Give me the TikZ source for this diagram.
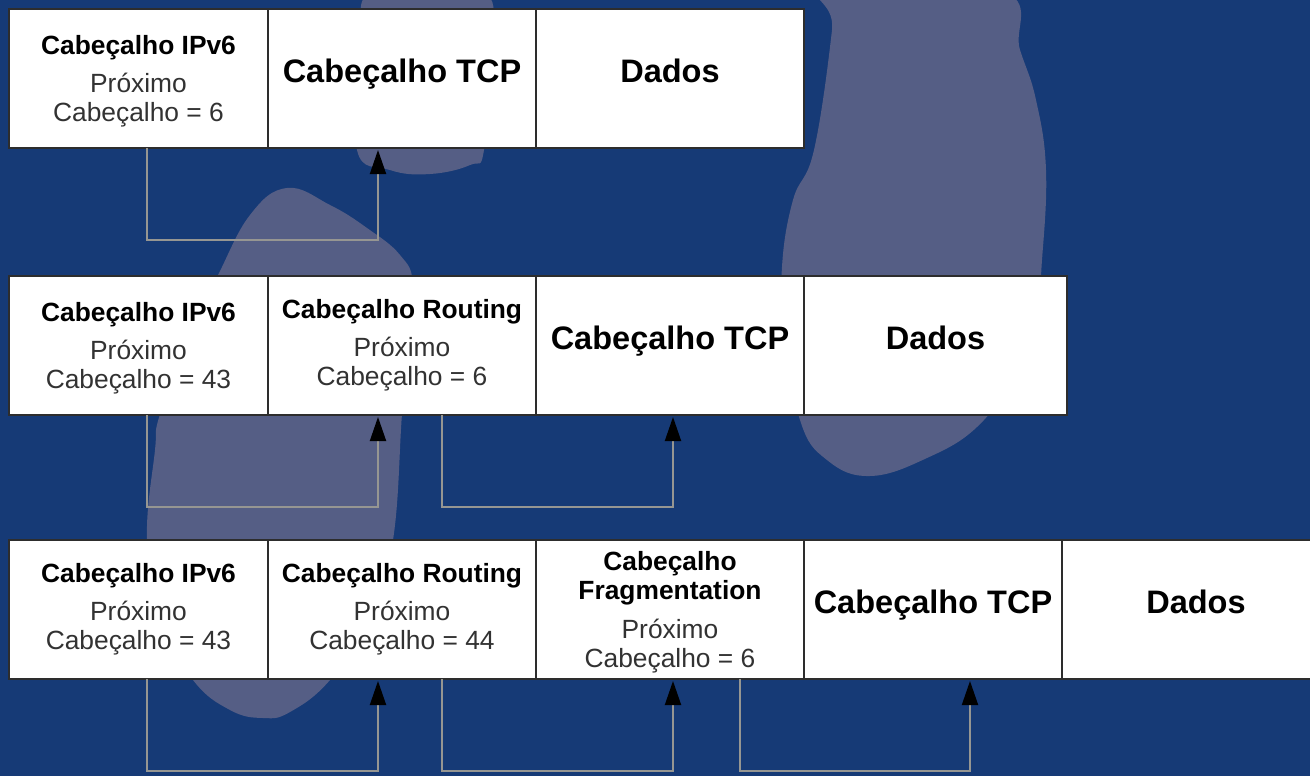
\documentclass[tikz,border=0pt]{standalone}
\usepackage{fontspec}
\setmainfont{Liberation Sans}
\usepackage{xcolor}
\usepackage{tikz}
\usetikzlibrary{arrows.meta,positioning}
\definecolor{bgblue}{RGB}{22,58,118}
\definecolor{blobgray}{RGB}{85,94,133}
\definecolor{linkgray}{RGB}{150,150,146}
\definecolor{cellline}{RGB}{45,45,45}
\definecolor{subtext}{RGB}{50,50,50}

\begin{document}
\begin{tikzpicture}[
cell/.style={draw=cellline, line width=1pt, fill=white, outer sep=0pt, inner sep=2pt,
minimum width=5.36cm, minimum height=2.78cm, align=center, text=subtext,
font=\fontsize{15}{16.5}\selectfont},
lowcell/.style={cell, text depth=-0.14cm},
big/.style={cell, text=black, font=\fontsize{18.5}{20}\selectfont\bfseries, text depth=0.33cm},
link/.style={draw=linkgray, line width=1.1pt, shorten >=0.04cm,
-{Triangle[length=0.48cm,width=0.32cm,color=black]}},
blob/.style={fill=blobgray}
]

\useasboundingbox (0,0) rectangle (26.2,-15.52);
\clip (0,0) rectangle (26.2,-15.52);
\fill[bgblue] (0,0) rectangle (26.2,-15.52);

% background shapes
\fill[blob] plot[smooth cycle, tension=0.7] coordinates {
(7.44,0.2) (7.30,-1.2) (7.14,-3.0) (7.8,-3.4) (8.6,-3.48) (9.4,-3.3)
(9.68,-3.0) (9.76,-1.2) (9.64,0.2)};
\fill[blob] plot[smooth cycle, tension=0.7] coordinates {
(5.74,-3.76) (6.6,-4.1) (7.34,-4.56) (8.0,-5.1) (8.26,-5.7) (8.16,-7.0)
(8.04,-8.28) (7.86,-10.8) (7.4,-12.4) (6.6,-13.6) (5.8,-14.24) (5.26,-14.36)
(4.6,-14.2) (3.86,-13.6) (3.2,-12.4) (2.94,-10.8) (3.1,-9.0) (3.2,-8.28)
(3.8,-6.6) (4.34,-5.54) (5.0,-4.3)};
\fill[blob] plot[smooth cycle, tension=0.7] coordinates {
(16.64,0.2) (16.64,-0.6) (16.28,-3.0) (15.86,-4.0) (15.64,-5.34) (15.7,-6.6)
(16.0,-8.4) (16.54,-9.2) (17.4,-9.52) (18.54,-9.16) (19.54,-8.54) (20.2,-7.6)
(20.7,-6.4) (20.84,-5.2) (20.92,-3.4) (20.72,-2.0) (20.4,-1.0) (20.0,0.2)};

% row 1
\node[cell, text depth=-0.06cm, minimum width=5.18cm] (r1ip) at (2.77,-1.57)
{\textcolor{black}{\bfseries Cabeçalho IPv6}\\[5pt]Próximo\\Cabeçalho = 6};
\node[big, right=0pt of r1ip] (r1tcp) {Cabeçalho TCP};
\node[big, right=0pt of r1tcp] (r1data) {Dados};

% row 2
\node[lowcell, minimum width=5.18cm] (r2ip) at (2.77,-6.91)
{\textcolor{black}{\bfseries Cabeçalho IPv6}\\[5pt]Próximo\\Cabeçalho = 43};
\node[cell, right=0pt of r2ip] (r2rt)
{\textcolor{black}{\bfseries Cabeçalho Routing}\\[5pt]Próximo\\Cabeçalho = 6};
\node[big, right=0pt of r2rt] (r2tcp) {Cabeçalho TCP};
\node[big, right=0pt of r2tcp, minimum width=5.26cm] (r2data) {Dados};

% row 3
\node[cell, minimum width=5.18cm] (r3ip) at (2.77,-12.19)
{\textcolor{black}{\bfseries Cabeçalho IPv6}\\[5pt]Próximo\\Cabeçalho = 43};
\node[cell, right=0pt of r3ip] (r3rt)
{\textcolor{black}{\bfseries Cabeçalho Routing}\\[5pt]Próximo\\Cabeçalho = 44};
\node[lowcell, right=0pt of r3rt] (r3frag)
{\textcolor{black}{\bfseries Cabeçalho}\\\textcolor{black}{\bfseries Fragmentation}\\[6pt]Próximo\\Cabeçalho = 6};
\node[big, right=0pt of r3frag, minimum width=5.16cm] (r3tcp) {Cabeçalho TCP};
\node[big, right=0pt of r3tcp] (r3data) {Dados};

% next header links
\draw[link] ([xshift=0.17cm]r1ip.south) -- ++(0,-1.84) -| ([xshift=-0.48cm]r1tcp.south);

\draw[link] ([xshift=0.17cm]r2ip.south) -- ++(0,-1.84) -| ([xshift=-0.48cm]r2rt.south);
\draw[link] ([xshift=0.8cm]r2rt.south) -- ++(0,-1.84) -| ([xshift=0.06cm]r2tcp.south);

\draw[link] ([xshift=0.17cm]r3ip.south) -- ++(0,-1.84) -| ([xshift=-0.48cm]r3rt.south);
\draw[link] ([xshift=0.8cm]r3rt.south) -- ++(0,-1.84) -| ([xshift=0.06cm]r3frag.south);
\draw[link] ([xshift=1.4cm]r3frag.south) -- ++(0,-1.84) -| ([xshift=0.74cm]r3tcp.south);

\end{tikzpicture}
\end{document}
